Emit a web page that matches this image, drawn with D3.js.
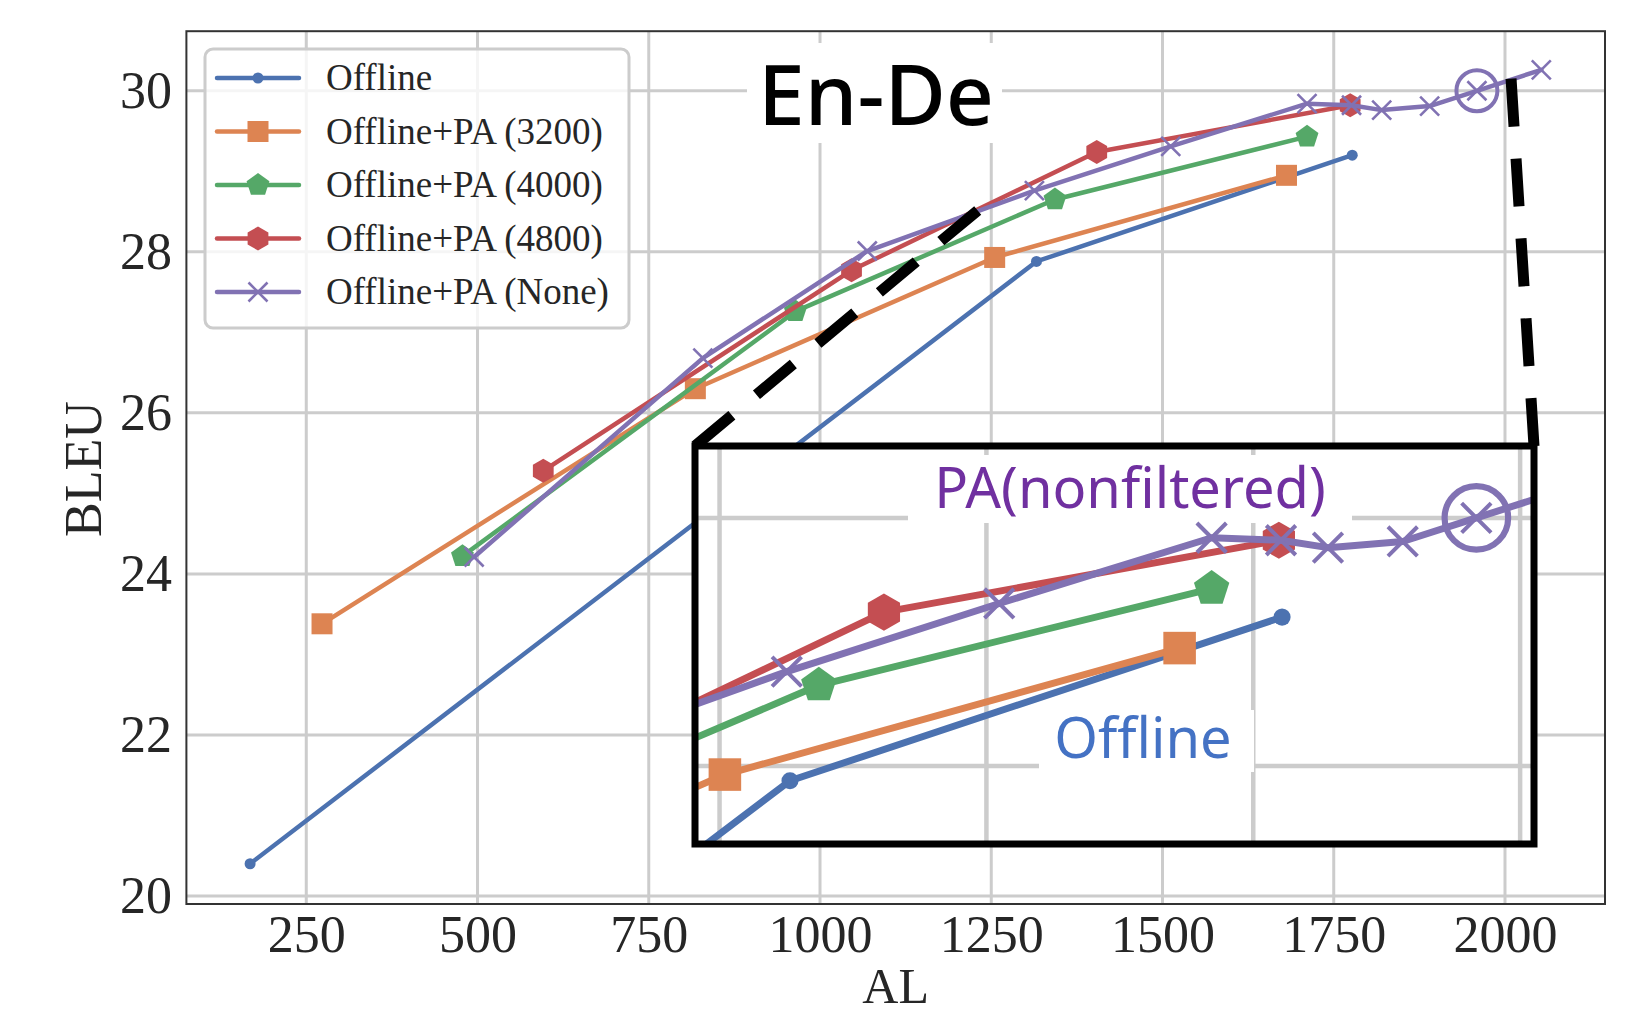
<!DOCTYPE html>
<html>
<head>
<meta charset="utf-8">
<script src="https://cdn.jsdelivr.net/npm/d3@7"></script>
<style>
body { margin: 0; background: #fff; }
</style>
</head>
<body>
<div class="d3Graph"></div>
<script>
// values: AL on x, BLEU on y
var offlineAL   = [168, 1316, 1777];
var offlineBLEU = [20.4, 27.88, 29.2];
var pa3200AL    = [273, 818, 1255, 1681];
var pa3200BLEU  = [23.38, 26.3, 27.93, 28.95];
var pa4000AL    = [478, 964, 1343, 1711];
var pa4000BLEU  = [24.22, 27.26, 28.65, 29.43];
var pa4800AL    = [596, 1046, 1404, 1774];
var pa4800BLEU  = [25.28, 27.77, 29.24, 29.82];
var paNoneAL    = [495, 829, 1069, 1313, 1512, 1711, 1776, 1820, 1890, 1959, 2053];
var paNoneBLEU  = [24.21, 26.68, 28.01, 28.76, 29.31, 29.84, 29.82, 29.76, 29.81, 30.0, 30.26];

var seriesNames = ["Offline", "Offline+PA (3200)", "Offline+PA (4000)", "Offline+PA (4800)", "Offline+PA (None)"];
var xTicks = [250, 500, 750, 1000, 1250, 1500, 1750, 2000];
var yTicks = [20, 22, 24, 26, 28, 30];
var circledAL = 1959, circledBLEU = 30.0;

var colors  = ["#4c72b0", "#dd8452", "#55a868", "#c44e52", "#8172b3"];
var markers = ["circle", "square", "pentagon", "hexagon", "x"];
var alLists   = [offlineAL, pa3200AL, pa4000AL, pa4800AL, paNoneAL];
var bleuLists = [offlineBLEU, pa3200BLEU, pa4000BLEU, pa4800BLEU, paNoneBLEU];

var series = seriesNames.map(function(name, i) {
    return {
        name: name,
        color: colors[i],
        marker: markers[i],
        points: alLists[i].map(function(a, j) { return [a, bleuLists[i][j]]; })
    };
});

var W = 1633, H = 1015;
var plot = {left: 186.4, right: 1605, top: 31.2, bottom: 904};

var svg = d3.select(".d3Graph")
    .append("svg")
    .attr("width", W)
    .attr("height", H);

var x = d3.scaleLinear().domain([75, 2146]).range([plot.left, plot.right]);
var y = d3.scaleLinear().domain([19.9, 30.74]).range([plot.bottom, plot.top]);

function polygon(n, r) {
    var pts = [];
    for (var k = 0; k < n; k++) {
        var a = -Math.PI / 2 + k * 2 * Math.PI / n;
        pts.push([r * Math.cos(a), r * Math.sin(a)]);
    }
    return "M" + pts.map(function(p) { return p[0].toFixed(2) + "," + p[1].toFixed(2); }).join("L") + "Z";
}

// draws one marker at (cx, cy), s = size factor
function drawMarker(g, type, cx, cy, color, s) {
    if (type === "circle") {
        g.append("circle").attr("cx", cx).attr("cy", cy).attr("r", 5.5 * s).attr("fill", color);
    } else if (type === "square") {
        g.append("rect").attr("x", cx - 10.5 * s).attr("y", cy - 10.5 * s)
            .attr("width", 21 * s).attr("height", 21 * s).attr("fill", color);
    } else if (type === "pentagon") {
        g.append("path").attr("d", polygon(5, 12 * s))
            .attr("transform", "translate(" + cx + "," + cy + ")").attr("fill", color);
    } else if (type === "hexagon") {
        g.append("path").attr("d", polygon(6, 12 * s))
            .attr("transform", "translate(" + cx + "," + cy + ")").attr("fill", color);
    } else {
        var a = 9.5 * s;
        g.append("path")
            .attr("d", "M" + (-a) + "," + (-a) + "L" + a + "," + a + "M" + (-a) + "," + a + "L" + a + "," + (-a))
            .attr("transform", "translate(" + cx + "," + cy + ")")
            .attr("fill", "none").attr("stroke", color).attr("stroke-width", 2.6 * s);
    }
}

function drawSeries(g, sx, sy, s) {
    series.forEach(function(d) {
        var line = d3.line().x(function(p) { return sx(p[0]); }).y(function(p) { return sy(p[1]); });
        g.append("path")
            .attr("d", line(d.points))
            .attr("fill", "none")
            .attr("stroke", d.color)
            .attr("stroke-width", 4.5 * s)
            .attr("stroke-linejoin", "round")
            .attr("stroke-linecap", "round");
        d.points.forEach(function(p) {
            drawMarker(g, d.marker, sx(p[0]), sy(p[1]), d.color, s);
        });
    });
    g.append("circle")
        .attr("cx", sx(circledAL)).attr("cy", sy(circledBLEU))
        .attr("r", 20.5 * s)
        .attr("fill", "none").attr("stroke", colors[4]).attr("stroke-width", 4 * s);
}

function drawGrid(g, sx, sy, xs, ys, x0, x1, y0, y1, w) {
    g.selectAll(null).data(xs).enter().append("line")
        .attr("x1", function(d) { return sx(d); }).attr("x2", function(d) { return sx(d); })
        .attr("y1", y0).attr("y2", y1)
        .attr("stroke", "#cccccc").attr("stroke-width", w);
    g.selectAll(null).data(ys).enter().append("line")
        .attr("y1", function(d) { return sy(d); }).attr("y2", function(d) { return sy(d); })
        .attr("x1", x0).attr("x2", x1)
        .attr("stroke", "#cccccc").attr("stroke-width", w);
}

// grid
drawGrid(svg.append("g"), x, y, xTicks, yTicks, plot.left, plot.right, plot.top, plot.bottom, 3);

// "En-De" box hides the grid behind it
svg.append("rect").attr("x", 747).attr("y", 43).attr("width", 255).attr("height", 100).attr("fill", "#fff");
svg.append("text")
    .attr("x", 876).attr("y", 125)
    .attr("text-anchor", "middle")
    .attr("font-family", "Noto Sans")
    .attr("font-weight", 500)
    .attr("font-size", 84)
    .attr("fill", "#000")
    .text("En-De");

// main lines
drawSeries(svg.append("g"), x, y, 1);

// axes labels via d3 axes
var xAxis = svg.append("g")
    .attr("transform", "translate(0," + plot.bottom + ")")
    .call(d3.axisBottom(x).tickValues(xTicks).tickFormat(d3.format("d")).tickSize(0).tickPadding(11));
var yAxis = svg.append("g")
    .attr("transform", "translate(" + plot.left + ",0)")
    .call(d3.axisLeft(y).tickValues(yTicks).tickFormat(d3.format("d")).tickSize(0).tickPadding(14.5));
[xAxis, yAxis].forEach(function(a) {
    a.select(".domain").remove();
    a.selectAll("text")
        .attr("font-family", "Liberation Serif")
        .attr("font-size", 52)
        .attr("fill", "#262626");
});

// spines
svg.append("rect")
    .attr("x", plot.left).attr("y", plot.top)
    .attr("width", plot.right - plot.left).attr("height", plot.bottom - plot.top)
    .attr("fill", "none").attr("stroke", "#333").attr("stroke-width", 2);

svg.append("text")
    .attr("x", (plot.left + plot.right) / 2).attr("y", 1003)
    .attr("text-anchor", "middle")
    .attr("font-family", "Liberation Serif").attr("font-size", 50)
    .attr("fill", "#262626")
    .text("AL");
svg.append("text")
    .attr("transform", "translate(101,469) rotate(-90)")
    .attr("text-anchor", "middle")
    .attr("font-family", "Liberation Serif").attr("font-size", 52)
    .attr("fill", "#262626")
    .text("BLEU");

// legend
var leg = svg.append("g");
leg.append("rect")
    .attr("x", 205).attr("y", 49).attr("width", 424).attr("height", 279).attr("rx", 8)
    .attr("fill", "#fff").attr("fill-opacity", 0.8)
    .attr("stroke", "#cccccc").attr("stroke-width", 3);
series.forEach(function(d, i) {
    var ly = 78 + i * 53.5;
    leg.append("line")
        .attr("x1", 217).attr("x2", 299).attr("y1", ly).attr("y2", ly)
        .attr("stroke", d.color).attr("stroke-width", 4.5).attr("stroke-linecap", "round");
    drawMarker(leg, d.marker, 258, ly, d.color, 1);
    leg.append("text")
        .attr("x", 326).attr("y", ly).attr("dy", "0.33em")
        .attr("font-family", "Liberation Serif").attr("font-size", 37)
        .attr("fill", "#262626")
        .text(d.name);
});

// dashed connectors to the zoom box
var box = {x0: 695, y0: 446, x1: 1534, y1: 844};
svg.append("line")
    .attr("x1", box.x0).attr("y1", box.y0).attr("x2", 995).attr("y2", 196)
    .attr("stroke", "#000").attr("stroke-width", 11).attr("stroke-dasharray", "48,32");
svg.append("line")
    .attr("x1", box.x1).attr("y1", box.y0).attr("x2", 1511).attr("y2", 78)
    .attr("stroke", "#000").attr("stroke-width", 11).attr("stroke-dasharray", "48,32");

// zoomed inset
var xi = d3.scaleLinear().domain([1227, 2013]).range([box.x0, box.x1]);
var yi = d3.scaleLinear().domain([27.37, 30.58]).range([box.y1, box.y0]);

svg.append("clipPath").attr("id", "insetClip")
    .append("rect").attr("x", box.x0).attr("y", box.y0)
    .attr("width", box.x1 - box.x0).attr("height", box.y1 - box.y0);

var inset = svg.append("g");
inset.append("rect")
    .attr("x", box.x0).attr("y", box.y0)
    .attr("width", box.x1 - box.x0).attr("height", box.y1 - box.y0)
    .attr("fill", "#fff");
var insetInner = inset.append("g").attr("clip-path", "url(#insetClip)");
drawGrid(insetInner, xi, yi, xTicks, yTicks, box.x0, box.x1, box.y0, box.y1, 4.5);

insetInner.append("rect").attr("x", 908).attr("y", 455).attr("width", 444).attr("height", 68).attr("fill", "#fff");
insetInner.append("rect").attr("x", 1039).attr("y", 710).attr("width", 215).attr("height", 62).attr("fill", "#fff");

drawSeries(insetInner, xi, yi, 1.55);

inset.append("text")
    .attr("x", 1130).attr("y", 508)
    .attr("text-anchor", "middle")
    .attr("font-family", "Noto Sans").attr("font-size", 56)
    .attr("fill", "#7030a0")
    .text("PA(nonfiltered)");
inset.append("text")
    .attr("x", 1143).attr("y", 758)
    .attr("text-anchor", "middle")
    .attr("font-family", "Noto Sans").attr("font-size", 56)
    .attr("fill", "#4472c4")
    .text("Offline");

inset.append("rect")
    .attr("x", box.x0).attr("y", box.y0)
    .attr("width", box.x1 - box.x0).attr("height", box.y1 - box.y0)
    .attr("fill", "none").attr("stroke", "#000").attr("stroke-width", 7);
</script>
</body>
</html>
